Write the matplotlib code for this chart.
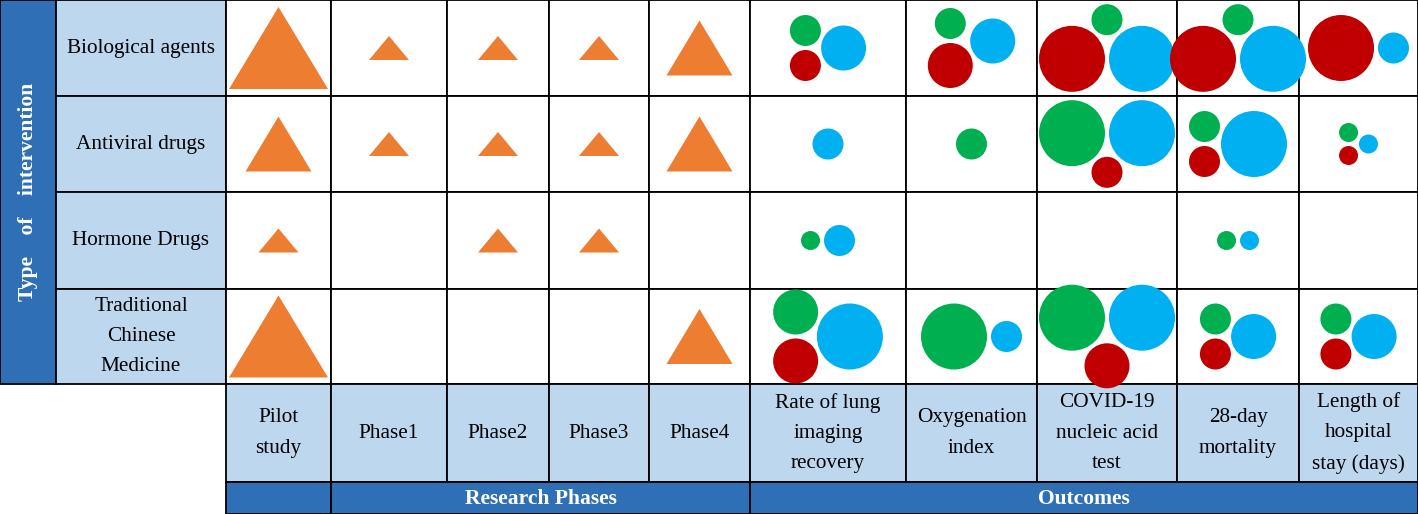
import numpy as np
import matplotlib
matplotlib.use("Agg")
import matplotlib.pyplot as plt
from matplotlib.patches import Rectangle, Polygon, Circle

plt.rcParams['font.family'] = ['Liberation Serif', 'DejaVu Serif']

# ---- data ----
interventions = ["Biological agents", "Antiviral drugs", "Hormone Drugs",
                 "Traditional\nChinese\nMedicine"]
phases = ["Pilot\nstudy", "Phase1", "Phase2", "Phase3", "Phase4"]
outcomes = ["Rate of lung\nimaging\nrecovery", "Oxygenation\nindex",
            "COVID-19\nnucleic acid\ntest", "28-day\nmortality",
            "Length of\nhospital\nstay (days)"]

# triangle size level per intervention x phase (0 = none)
phase_level = [
    [3, 1, 1, 1, 2],
    [2, 1, 1, 1, 2],
    [1, 0, 1, 1, 0],
    [3, 0, 0, 0, 2],
]

# circle size level per intervention x outcome (0 = none)
green_level = [
    [2, 2, 2, 2, 0],
    [0, 2, 4, 2, 1],
    [1, 0, 0, 1, 0],
    [3, 4, 4, 2, 2],
]
red_level = [
    [2, 3, 4, 4, 4],
    [0, 0, 2, 2, 1],
    [0, 0, 0, 0, 0],
    [3, 0, 3, 2, 2],
]
blue_level = [
    [3, 3, 4, 4, 2],
    [2, 0, 4, 4, 1],
    [2, 0, 0, 1, 0],
    [4, 2, 4, 3, 3],
]

# ---- layout / style ----
W, H = 1418, 514
col_edges = [0, 56, 226, 331, 447, 549, 649, 750, 906, 1037, 1177, 1299, 1418]
row_edges = [0, 96, 192, 289, 384, 482, 514]

dark_blue = "#2F6FB5"
light_blue = "#BDD7EE"
orange = "#ED7D31"
c_green, c_red, c_blue = "#00B050", "#C00000", "#00B0F0"

tri_base = {1: 40, 2: 66, 3: 99}
tri_height = {1: 24, 2: 55, 3: 82}
circ_r = {0: 0, 1: 9.5, 2: 15.5, 3: 22.5, 4: 33}
gap = 4

fs = 15.3
lsp = 1.8
lw = 1.3

fig = plt.figure(figsize=(W / 100, H / 100), dpi=100)
ax = fig.add_axes([0, 0, 1, 1])
ax.set_xlim(0, W)
ax.set_ylim(H, 0)
ax.axis("off")


def cell(x0, x1, y0, y1, color):
    ax.add_patch(Rectangle((x0, y0), x1 - x0, y1 - y0, facecolor=color,
                           edgecolor="black", linewidth=lw, zorder=1))


n_rows = len(interventions)
body_top, body_bot = row_edges[0], row_edges[n_rows]

# left strip
cell(col_edges[0], col_edges[1], body_top, body_bot, dark_blue)
ax.text((col_edges[0] + col_edges[1]) / 2, (body_top + body_bot) / 2,
        "Type    of    intervention", rotation=90, color="white",
        fontsize=15.5, fontweight="bold", ha="center", va="center")

# row labels
for i, lab in enumerate(interventions):
    y0, y1 = row_edges[i], row_edges[i + 1]
    cell(col_edges[1], col_edges[2], y0, y1, light_blue)
    ax.text((col_edges[1] + col_edges[2]) / 2, (y0 + y1) / 2, lab,
            fontsize=fs, ha="center", va="center", linespacing=lsp)

# body cells
for i in range(n_rows):
    for j in range(2, len(col_edges) - 1):
        cell(col_edges[j], col_edges[j + 1], row_edges[i], row_edges[i + 1], "white")

# header cells
headers = phases + outcomes
hy0, hy1 = row_edges[n_rows], row_edges[n_rows + 1]
for k, lab in enumerate(headers):
    x0, x1 = col_edges[k + 2], col_edges[k + 3]
    cell(x0, x1, hy0, hy1, light_blue)
    ax.text((x0 + x1) / 2, (hy0 + hy1) / 2, lab, fontsize=fs,
            ha="center", va="center", linespacing=lsp)

# bottom bar
by0, by1 = row_edges[n_rows + 1], row_edges[n_rows + 2]
n_ph = len(phases)
groups = [(col_edges[2], col_edges[3], ""),
          (col_edges[3], col_edges[2 + n_ph], "Research Phases"),
          (col_edges[2 + n_ph], col_edges[-1], "Outcomes")]
for x0, x1, lab in groups:
    cell(x0, x1, by0, by1, dark_blue)
    ax.text((x0 + x1) / 2, (by0 + by1) / 2 + 1, lab, color="white",
            fontsize=15.5, fontweight="bold", ha="center", va="center")

# triangles
for i in range(n_rows):
    yc = (row_edges[i] + row_edges[i + 1]) / 2
    for j, lev in enumerate(phase_level[i]):
        if lev == 0:
            continue
        xc = (col_edges[j + 2] + col_edges[j + 3]) / 2
        b, h = tri_base[lev], tri_height[lev]
        pts = [(xc - b / 2, yc + h / 2), (xc + b / 2, yc + h / 2), (xc, yc - h / 2)]
        ax.add_patch(Polygon(pts, closed=True, facecolor=orange,
                             edgecolor="none", zorder=2))


def touch_point(p1, r1, p2, r2, side):
    # centre of a circle touching circles (p1, r1) and (p2, r2)
    d = np.hypot(p2[0] - p1[0], p2[1] - p1[1])
    a = (r1 ** 2 - r2 ** 2 + d ** 2) / (2 * d)
    hh = np.sqrt(max(r1 ** 2 - a ** 2, 0))
    ux, uy = (p2[0] - p1[0]) / d, (p2[1] - p1[1]) / d
    mx, my = p1[0] + a * ux, p1[1] + a * uy
    return mx + side * hh * (-uy), my + side * hh * ux


def pack(g, r, b, cell_h):
    # returns list of (x, y, radius, color); y grows downwards
    out = []
    if g > 0 and r > 0 and (2 * g + 2 * r + gap) > cell_h:
        # big pair side by side, the small one tucked in the gap
        if g >= r:
            big, bc, small, sc, side = g, c_green, r, c_red, 1
        else:
            big, bc, small, sc, side = r, c_red, g, c_green, -1
        pb = (big + b + gap, 0)
        out.append((0, 0, big, bc))
        out.append((pb[0], pb[1], b, c_blue))
        sx, sy = touch_point((0, 0), big + small + gap, pb, b + small + gap, side)
        out.append((sx, sy, small, sc))
        return out
    left = []
    if g > 0 and r > 0:
        left = [(0, -(g + gap / 2), g, c_green), (0, r + gap / 2, r, c_red)]
    elif g > 0:
        left = [(0, 0, g, c_green)]
    elif r > 0:
        left = [(0, 0, r, c_red)]
    out.extend(left)
    if b > 0:
        if left:
            xb = max(np.sqrt(max((rc + b + gap) ** 2 - yc ** 2, 0))
                     for _, yc, rc, _ in left)
        else:
            xb = 0
        out.append((xb, 0, b, c_blue))
    return out


for i in range(n_rows):
    y0, y1 = row_edges[i], row_edges[i + 1]
    for j in range(len(outcomes)):
        x0, x1 = col_edges[j + 2 + n_ph], col_edges[j + 3 + n_ph]
        circles = pack(circ_r[green_level[i][j]], circ_r[red_level[i][j]],
                       circ_r[blue_level[i][j]], y1 - y0)
        if not circles:
            continue
        xs_min = min(c[0] - c[2] for c in circles)
        xs_max = max(c[0] + c[2] for c in circles)
        ys_min = min(c[1] - c[2] for c in circles)
        ys_max = max(c[1] + c[2] for c in circles)
        dx = (x0 + x1) / 2 - (xs_min + xs_max) / 2
        dy = (y0 + y1) / 2 - (ys_min + ys_max) / 2
        for cx, cy, rad, col in circles:
            ax.add_patch(Circle((cx + dx, cy + dy), rad, facecolor=col,
                                edgecolor="none", zorder=2))

fig.savefig("out.png", dpi=100)
